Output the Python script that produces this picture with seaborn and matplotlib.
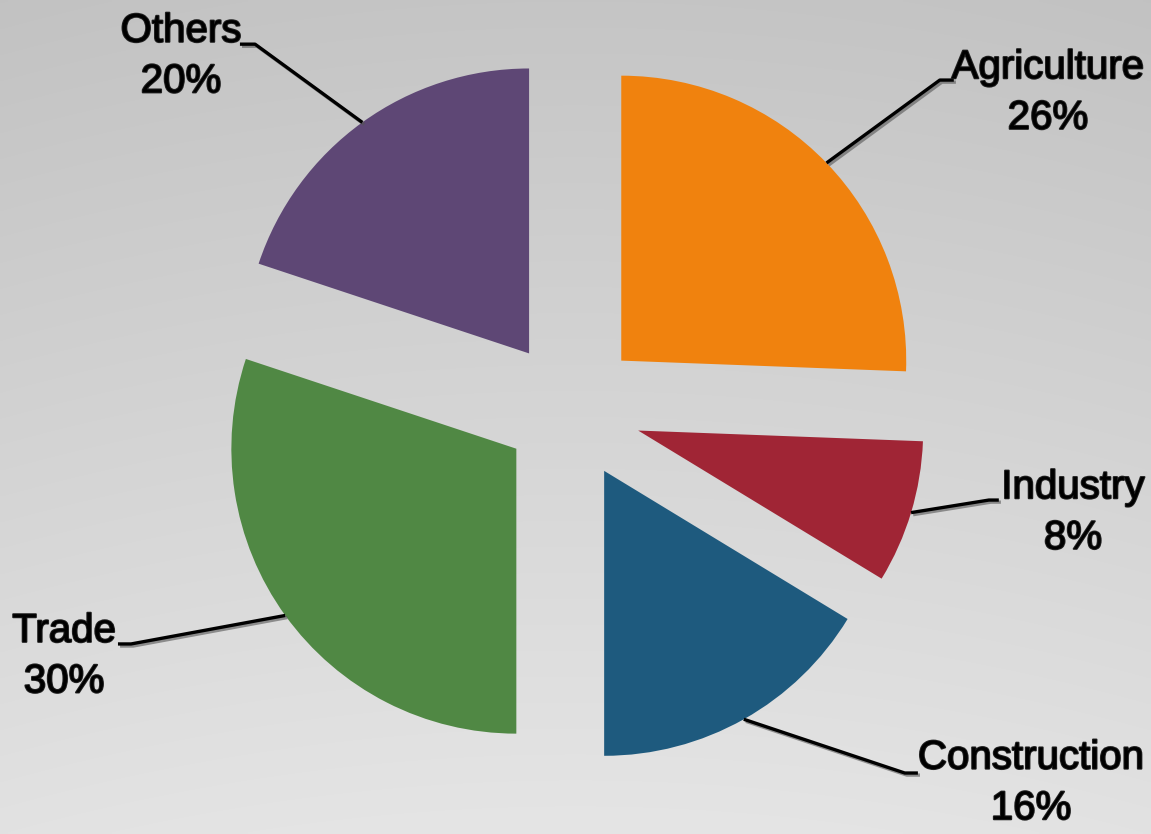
import numpy as np
import matplotlib
matplotlib.use("Agg")
import matplotlib.pyplot as plt
import matplotlib.patheffects as pe
import seaborn as sns

# ---- data ----
categories = ["Agriculture", "Industry", "Construction", "Trade", "Others"]
shares = [25.6, 8.1, 16.3, 30.1, 19.9]
colors = ["#F0820E", "#A02535", "#1E5A7E", "#508844", "#5E4775"]

# ---- layout (data units, pie radius = 1) ----
label_pos = {
    "Agriculture": (1.677, 1.114),
    "Industry": (1.765, -0.360),
    "Construction": (1.618, -1.309),
    "Trade": (-1.775, -0.864),
    "Others": (-1.365, 1.242),
}
# elbow of leader line and end of short horizontal tick next to text
leader_pts = {
    "Agriculture": [(1.298, 1.158), (1.347, 1.158)],
    "Industry": [(1.47, -0.316), (1.505, -0.316)],
    "Construction": [(1.175, -1.274), (1.221, -1.274)],
    "Trade": [(-1.54, -0.821), (-1.586, -0.821)],
    "Others": [(-1.105, 1.284), (-1.158, 1.284)],
}
explode = [0.25, 0.25, 0.245, 0.232, 0.245]

sns.set_theme(style="white")
plt.rcParams["font.family"] = ["Liberation Sans", "DejaVu Sans"]

fig = plt.figure(figsize=(11.51, 8.34), dpi=100)
ax = fig.add_axes([0, 0, 1, 1])

xlim = (-2.0, 2.039)
ylim = (-1.488, 1.439)

# background gradient
grad = np.linspace(0, 1, 256).reshape(-1, 1)
top, bot = 0xC5 / 255, 0xE5 / 255
vals = top + (bot - top) * grad
xx = np.linspace(-1, 1, 256).reshape(1, -1)
img = np.clip(vals - 0.012 * xx ** 2, 0, 1)
rgb = np.dstack([img, img, img])
ax.imshow(rgb, extent=(xlim[0], xlim[1], ylim[0], ylim[1]), origin="upper",
          aspect="auto", zorder=0, interpolation="bilinear")

wedges, _ = ax.pie(shares, colors=colors, startangle=90, counterclock=False,
                   explode=explode, radius=1.0,
                   wedgeprops=dict(linewidth=0, zorder=2))

shadow = [pe.SimpleLineShadow(offset=(1.5, -1.5), shadow_color="#555555", alpha=0.6), pe.Normal()]
text_fx = [pe.withStroke(linewidth=1.4, foreground="#222222")]

for w, cat, val in zip(wedges, categories, shares):
    ang = np.deg2rad((w.theta1 + w.theta2) / 2)
    cx, cy = w.center
    rim = (cx + w.r * np.cos(ang), cy + w.r * np.sin(ang))
    pts = [rim] + leader_pts[cat]
    ax.plot([p[0] for p in pts], [p[1] for p in pts], color="black", lw=2.4,
            solid_capstyle="butt", zorder=3, path_effects=shadow)
    tx, ty = label_pos[cat]
    ax.text(tx, ty, f"{cat}\n{round(val)}%", ha="center", va="center", multialignment="center",
            fontsize=29, color="black", linespacing=1.42, zorder=4, path_effects=text_fx)

ax.set_xlim(*xlim)
ax.set_ylim(*ylim)
ax.set_aspect("auto")
ax.axis("off")

fig.savefig("out.png", dpi=100)
